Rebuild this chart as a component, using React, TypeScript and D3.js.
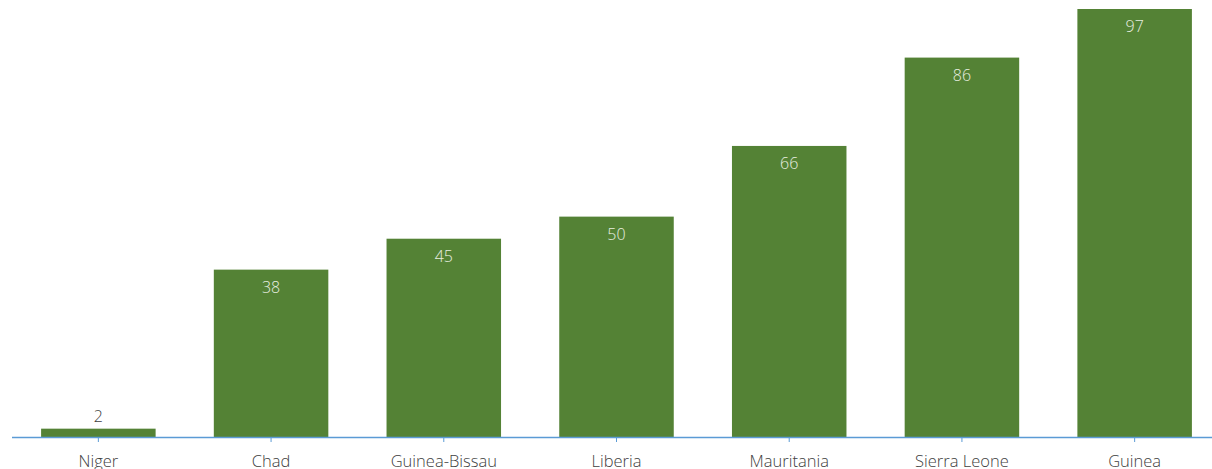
import React from "react";
import * as d3 from "d3";

const categories = ["Niger", "Chad", "Guinea-Bissau", "Liberia", "Mauritania", "Sierra Leone", "Guinea"];
const values = [2, 38, 45, 50, 66, 86, 97];

const W = 1212;
const H = 469;

export default function App() {
  const x = d3.scaleBand<string>().domain(categories).range([12, 1221]).paddingInner(0.337).paddingOuter(0.1685);
  const y = d3.scaleLinear().domain([0, 97]).range([437.5, 9]);
  const bw = x.bandwidth();
  const font = "'Open Sans', 'Noto Sans', sans-serif";
  return (
    <svg width={W} height={H} style={{ position: "absolute", left: 0, top: 0, background: "#fff" }}>
      {categories.map((c, i) => {
        const v = values[i];
        const x0 = x(c)!;
        const top = y(v);
        const inside = y(0) - top > 30;
        return (
          <g key={c}>
            <rect x={x0} y={top} width={bw} height={y(0) - top} fill="#548235" />
            <text
              x={x0 + bw / 2}
              y={inside ? top + 23 : top - 7}
              textAnchor="middle"
              fontFamily={font}
              fontWeight={300}
              fontSize={16}
              fill={inside ? "#e8eee0" : "#404040"}
            >
              {v}
            </text>
          </g>
        );
      })}
      <line x1={12} x2={W} y1={437.5} y2={437.5} stroke="#5b9bd5" strokeWidth={1.5} />
      {categories.map((c) => {
        const cx = x(c)! + bw / 2;
        return (
          <g key={"t" + c}>
            <line x1={cx} x2={cx} y1={437.5} y2={442} stroke="#5b9bd5" strokeWidth={1} />
            <text x={cx} y={467} textAnchor="middle" fontFamily={font} fontWeight={300} fontSize={16.5} fill="#404040">
              {c}
            </text>
          </g>
        );
      })}
    </svg>
  );
}
